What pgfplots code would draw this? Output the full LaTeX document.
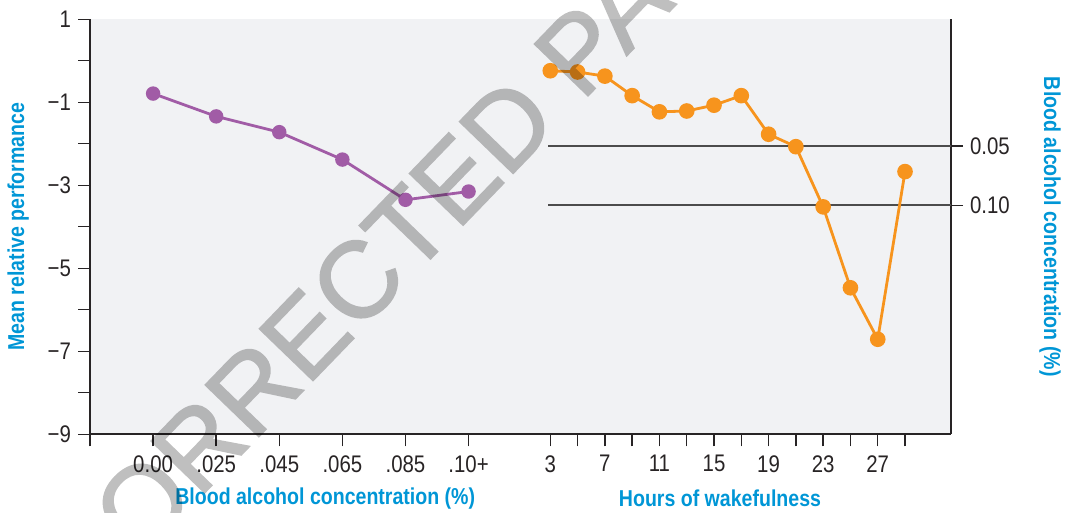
\documentclass[border=0pt]{standalone}
\usepackage{fontspec}
\setmainfont{Liberation Sans}[FakeStretch=0.85]
\newfontfamily\wmfont{Liberation Sans}[FakeBold=1.6]
\usepackage{pgfplots}
\pgfplotsset{compat=1.18}
\definecolor{bgcol}{RGB}{241,242,244}
\definecolor{lblue}{RGB}{0,150,214}
\definecolor{bacpurple}{RGB}{161,92,166}
\definecolor{wakeorange}{RGB}{247,148,29}
\definecolor{axdark}{RGB}{40,36,37}

\pgfplotsset{
  common/.style={
    scale only axis,
    height=207.5pt,
    ymin=-9, ymax=1,
    axis background/.style={fill=bgcol},
    axis line style={axdark, line width=0.8pt, -},
    tick style={axdark, line width=0.7pt},
    tick align=outside,
    major tick length=6pt,
    minor tick length=6pt,
    ticklabel style={font=\fontsize{12}{14}\selectfont, text=axdark},
    xticklabel style={yshift=-1pt},
    label style={font=\fontsize{11.5}{13}\selectfont\bfseries, text=lblue},
    clip=false,
  }
}

\begin{document}
\begin{tikzpicture}
\useasboundingbox (0,0) rectangle (533pt,256.5pt);

% left panel: blood alcohol concentration
\begin{axis}[common,
  at={(45pt,39.35pt)}, anchor=south west,
  width=215pt,
  xmin=0, xmax=6.815,
  axis x line*=bottom, axis y line*=left,
  xtick={0,1,2,3,4,5,6},
  xticklabels={,0.00,.025,.045,.065,.085,.10+},
  ytick={-9,-7,-5,-3,-1,1},
  yticklabels={−9,−7,−5,−3,−1,1},
  minor ytick={-8,-6,-4,-2,0},
  xlabel={Blood alcohol concentration (\%)},
  xlabel style={at={(axis description cs:0.547,0)}, anchor=center, yshift=-32pt},
  ylabel={Mean relative performance},
  ylabel style={at={(axis description cs:-0.167,0.5)}, anchor=center},
]
\addplot[bacpurple, line width=1.4pt, mark=*, mark size=2.9pt,
  mark options={fill=bacpurple, draw=bacpurple}] coordinates {
  (1,-0.79) (2,-1.34) (3,-1.72) (4,-2.38) (5,-3.35) (6,-3.15)
};
\end{axis}

% right panel: hours of wakefulness
\begin{axis}[common,
  at={(260pt,39.35pt)}, anchor=south west,
  width=215.5pt,
  xmin=0.78, xmax=32.37,
  axis x line*=bottom, axis y line*=right,
  xtick={3,5,...,29},
  xticklabels={3,,7,,11,,15,,19,,23,,27,},
  ytick={-3.48,-2.05},
  yticklabels={0.10,0.05},
  xlabel={Hours of wakefulness},
  xlabel style={at={(axis description cs:0.464,0)}, anchor=center, yshift=-32pt},
  ylabel={Blood alcohol concentration (\%)},
  ylabel style={at={(axis description cs:1.23,0.5)}, anchor=center, rotate=180},
]
\draw[black!70, line width=0.75pt] (axis cs:2.85,-2.05) -- (axis cs:32.37,-2.05);
\draw[black!70, line width=0.75pt] (axis cs:2.85,-3.48) -- (axis cs:32.37,-3.48);
\addplot[wakeorange, line width=1.4pt, mark=*, mark size=3.2pt,
  mark options={fill=wakeorange, draw=wakeorange}] coordinates {
  (3,-0.24) (5,-0.27) (7,-0.37) (9,-0.84) (11,-1.23) (13,-1.21) (15,-1.07)
  (17,-0.84) (19,-1.77) (21,-2.07) (23,-3.52) (25,-5.47) (27,-6.71) (29,-2.67)
};
\end{axis}

% watermark
\begin{scope}[transparency group, opacity=0.25]
\node[rotate=46, anchor=west, inner sep=0pt,
  font=\wmfont\fontsize{54}{60}\selectfont, text=black]
  at (29.5pt,-38.5pt) {CORRECTED PAGE PROOFS};
\end{scope}
\end{tikzpicture}
\end{document}
